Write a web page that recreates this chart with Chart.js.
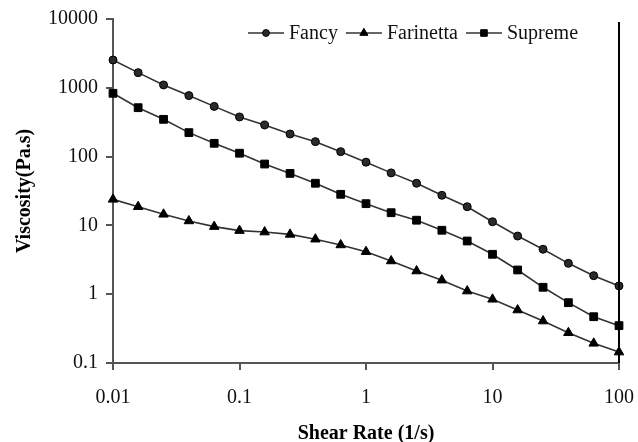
<!DOCTYPE html>
<html>
<head>
<meta charset="utf-8">
<script src="https://cdn.jsdelivr.net/npm/chart.js@4/dist/chart.umd.min.js"></script>
<style>
  html, body { margin: 0; padding: 0; background: #fff; }
  #wrap { width: 638px; height: 442px; }
</style>
</head>
<body>
<div id="wrap"><canvas id="c" width="638" height="442"></canvas></div>
<script>
const shearRate = [0.01, 0.0158, 0.0251, 0.0398, 0.0631, 0.1, 0.158, 0.251, 0.398, 0.631, 1, 1.58, 2.51, 3.98, 6.31, 10, 15.8, 25.1, 39.8, 63.1, 100];
const fancy = [2535, 1660, 1100, 770, 537, 377, 288, 213, 165, 118, 83, 58, 41, 27.4, 18.7, 11.3, 7.0, 4.5, 2.81, 1.86, 1.32];
const farinetta = [23.9, 18.7, 14.5, 11.6, 9.6, 8.4, 8.0, 7.4, 6.3, 5.2, 4.15, 3.04, 2.17, 1.6, 1.11, 0.843, 0.589, 0.407, 0.275, 0.193, 0.144];
const supreme = [832, 514, 348, 223, 156, 112, 78, 57, 41, 28.3, 20.7, 15.3, 11.9, 8.5, 5.93, 3.8, 2.25, 1.26, 0.753, 0.471, 0.349];
const seriesNames = ['Fancy', 'Farinetta', 'Supreme'];
const xTickValues = [0.01, 0.1, 1, 10, 100];
const xTickLabels = ['0.01', '0.1', '1', '10', '100'];
const yTickValues = [0.1, 1, 10, 100, 1000, 10000];
const yTickLabels = ['0.1', '1', '10', '100', '1000', '10000'];
const xTitle = 'Shear Rate (1/s)';
const yTitle = 'Viscosity(Pa.s)';

const FONT = "'Liberation Serif', 'Times New Roman', serif";
const LINE = '#333';
const styles = [
  { pointStyle: 'circle', radius: 4, fill: '#2a2a2a' },
  { pointStyle: 'triangle', radius: 5.5, fill: '#000' },
  { pointStyle: 'rect', radius: 5.5, fill: '#000' }
];
const seriesValues = [fancy, farinetta, supreme];

const datasets = seriesValues.map((vals, i) => ({
  label: seriesNames[i],
  data: shearRate.map((x, j) => ({ x: x, y: vals[j] })),
  borderColor: LINE,
  borderWidth: 1.6,
  pointStyle: styles[i].pointStyle,
  pointRadius: styles[i].radius,
  pointBackgroundColor: styles[i].fill,
  pointBorderColor: '#000',
  pointBorderWidth: 1,
  tension: 0,
  fill: false,
  clip: false
}));

const extras = {
  id: 'extras',
  afterDraw(chart) {
    const ctx = chart.ctx;
    const a = chart.chartArea;
    ctx.save();
    // right frame line
    ctx.strokeStyle = '#000';
    ctx.lineWidth = 2;
    ctx.beginPath();
    ctx.moveTo(a.right, a.top + 3);
    ctx.lineTo(a.right, a.bottom);
    ctx.stroke();
    // legend
    ctx.font = '20px ' + FONT;
    ctx.textBaseline = 'middle';
    ctx.textAlign = 'left';
    let x = 248;
    const y = 33;
    seriesNames.forEach((name, i) => {
      ctx.strokeStyle = LINE;
      ctx.lineWidth = 1.6;
      ctx.beginPath();
      ctx.moveTo(x, y);
      ctx.lineTo(x + 36, y);
      ctx.stroke();
      ctx.fillStyle = styles[i].fill;
      ctx.strokeStyle = '#000';
      ctx.lineWidth = 1;
      Chart.helpers.drawPoint(ctx, { pointStyle: styles[i].pointStyle, radius: styles[i].radius * 0.85, rotation: 0, borderWidth: 1 }, x + 18, y);
      ctx.fillStyle = '#111';
      ctx.fillText(name, x + 41, y + 1);
      x = x + 41 + ctx.measureText(name).width + 8;
    });
    ctx.restore();
  }
};

new Chart(document.getElementById('c'), {
  type: 'line',
  data: { datasets: datasets },
  options: {
    responsive: false,
    animation: false,
    events: [],
    layout: { padding: { left: 0, right: 19, top: 19, bottom: 0 } },
    plugins: { legend: { display: false }, tooltip: { enabled: false } },
    scales: {
      x: {
        type: 'logarithmic',
        min: 0.01,
        max: 100,
        afterBuildTicks: s => { s.ticks = xTickValues.map(v => ({ value: v })); },
        afterFit: s => { s.height = 79; s.paddingLeft = 0; s.paddingRight = 0; },
        ticks: {
          autoSkip: false,
          maxRotation: 0,
          padding: 16,
          color: '#111',
          font: { family: FONT, size: 20 },
          callback: (v) => { const i = xTickValues.indexOf(v); return i >= 0 ? xTickLabels[i] : ''; }
        },
        grid: { drawOnChartArea: false, drawTicks: true, tickLength: 7, color: '#555', lineWidth: 2 },
        border: { display: true, color: '#555', width: 2 },
        title: {
          display: true, text: xTitle, color: '#000',
          font: { family: FONT, size: 20, weight: 'bold', lineHeight: 0.9 },
          padding: { top: 0, bottom: -1 }
        }
      },
      y: {
        type: 'logarithmic',
        min: 0.1,
        max: 10000,
        afterBuildTicks: s => { s.ticks = yTickValues.map(v => ({ value: v })); },
        afterFit: s => { s.width = 113; s.paddingTop = 0; s.paddingBottom = 0; },
        ticks: {
          autoSkip: false,
          padding: 8,
          color: '#111',
          font: { family: FONT, size: 20 },
          callback: (v) => { const i = yTickValues.indexOf(v); return i >= 0 ? yTickLabels[i] : ''; }
        },
        grid: { drawOnChartArea: false, drawTicks: true, tickLength: 7, color: '#555', lineWidth: 2 },
        border: { display: true, color: '#555', width: 2 },
        title: {
          display: true, text: yTitle, color: '#000',
          font: { family: FONT, size: 20, weight: 'bold', lineHeight: 0.9 },
          padding: { top: 16, bottom: 0 }
        }
      }
    }
  },
  plugins: [extras]
});
</script>
</body>
</html>
